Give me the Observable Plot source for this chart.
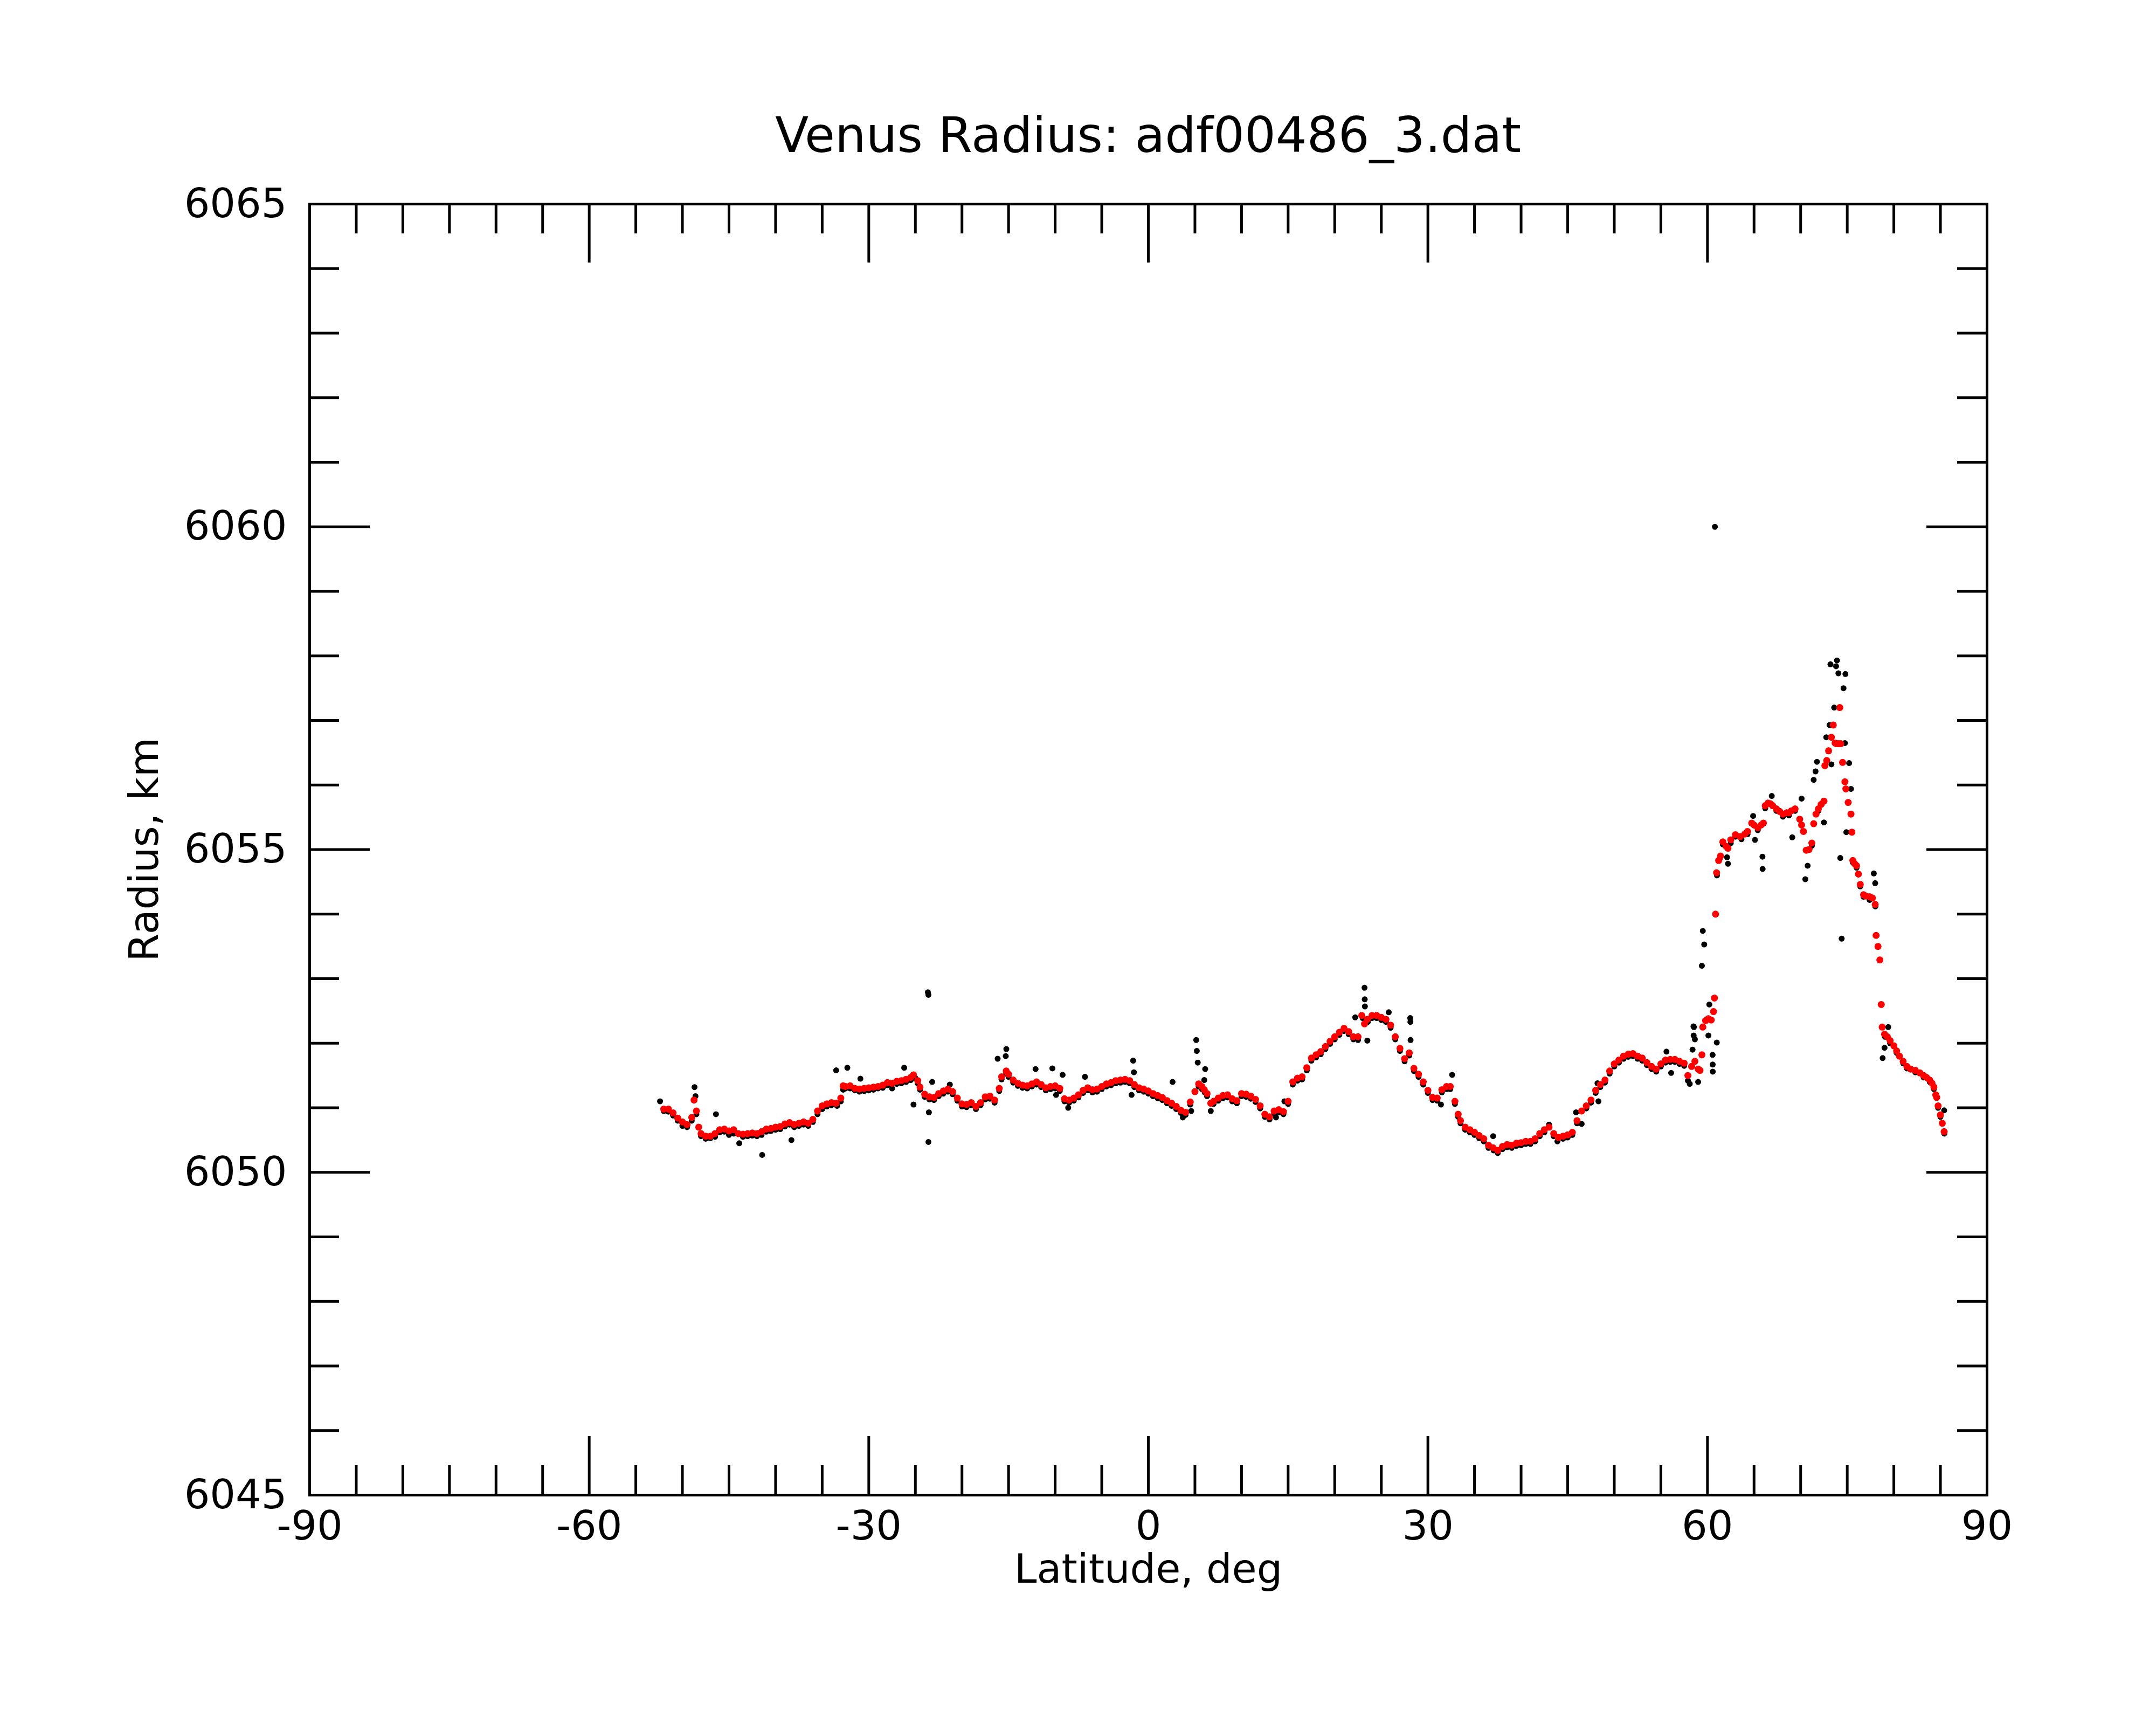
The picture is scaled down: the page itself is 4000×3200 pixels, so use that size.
<!DOCTYPE html>
<html>
<head>
<meta charset="utf-8">
<script src="https://cdn.jsdelivr.net/npm/d3@7"></script>
<script src="https://cdn.jsdelivr.net/npm/@observablehq/plot@0.6"></script>
<style>
  html, body { margin: 0; padding: 0; background: #ffffff; }
  #title {
    width: 4000px; height: 300px; box-sizing: border-box; padding-top: 205px; padding-left: 260px;
    font-family: "DejaVu Sans", sans-serif; font-size: 91px; line-height: 91px;
    text-align: center; color: #000;
  }
</style>
</head>
<body>
<div id="title">Venus Radius: adf00486_3.dat</div>
<div id="chart"></div>
<script>
// Axis ticks
const xMajorTicks = [-90, -60, -30, 0, 30, 60, 90];
const xMinorTicks = [-85, -80, -75, -70, -65, -55, -50, -45, -40, -35, -25, -20, -15, -10, -5,
                     5, 10, 15, 20, 25, 35, 40, 45, 50, 55, 65, 70, 75, 80, 85];
const yMajorTicks = [6045, 6050, 6055, 6060, 6065];
const yMinorTicks = [6046, 6047, 6048, 6049, 6051, 6052, 6053, 6054, 6056, 6057, 6058, 6059,
                     6061, 6062, 6063, 6064];

const xLabel = "Latitude, deg";
const yLabel = "Radius, km";

// Red (filtered) series: [latitude, radius km]
const redPoints = [
  [-52.0,6050.98],[-51.5,6050.98],[-51.0,6050.92],[-50.5,6050.84],[-50.0,6050.78],[-49.5,6050.74],
  [-49.0,6050.85],[-48.75,6051.12],[-48.5,6050.95],[-48.25,6050.70],[-48.0,6050.60],[-47.5,6050.56],
  [-47.0,6050.56],[-46.5,6050.60],[-46.0,6050.66],[-45.5,6050.67],[-45.0,6050.64],[-44.5,6050.66],
  [-44.0,6050.60],[-43.5,6050.59],[-43.0,6050.60],[-42.5,6050.61],[-42.0,6050.60],[-41.5,6050.63],
  [-41.0,6050.67],[-40.5,6050.68],[-40.0,6050.70],[-39.5,6050.71],[-39.0,6050.75],[-38.5,6050.77],
  [-38.0,6050.74],[-37.5,6050.76],[-37.0,6050.78],[-36.5,6050.76],[-36.0,6050.82],[-35.5,6050.95],
  [-35.0,6051.03],[-34.5,6051.06],[-34.0,6051.08],[-33.5,6051.07],[-33.0,6051.15],[-32.75,6051.34],
  [-32.5,6051.33],[-32.0,6051.34],[-31.5,6051.30],[-31.0,6051.29],[-30.5,6051.30],[-30.0,6051.31],
  [-29.5,6051.32],[-29.0,6051.33],[-28.5,6051.35],[-28.0,6051.39],[-27.5,6051.38],[-27.0,6051.41],
  [-26.5,6051.42],[-26.0,6051.44],[-25.5,6051.47],[-25.2,6051.51],[-24.75,6051.42],[-24.5,6051.32],
  [-24.0,6051.21],[-23.5,6051.17],[-23.0,6051.16],[-22.5,6051.22],[-22.0,6051.26],[-21.5,6051.29],
  [-21.0,6051.25],[-20.5,6051.15],[-20.0,6051.06],[-19.5,6051.05],[-19.0,6051.08],[-18.5,6051.02],
  [-18.0,6051.08],[-17.5,6051.17],[-17.0,6051.18],[-16.5,6051.12],[-16.0,6051.30],[-15.75,6051.48],
  [-15.25,6051.57],[-15.0,6051.52],[-14.5,6051.43],[-14.0,6051.38],[-13.5,6051.35],[-13.0,6051.34],
  [-12.5,6051.37],[-12.0,6051.40],[-11.5,6051.36],[-11.0,6051.31],[-10.5,6051.33],[-10.0,6051.34],
  [-9.5,6051.30],[-9.0,6051.14],[-8.5,6051.12],[-8.0,6051.15],[-7.5,6051.20],[-7.0,6051.27],
  [-6.5,6051.31],[-6.0,6051.28],[-5.5,6051.29],[-5.0,6051.33],[-4.5,6051.37],[-4.0,6051.39],
  [-3.5,6051.42],[-3.0,6051.43],[-2.5,6051.44],[-2.0,6051.42],[-1.5,6051.36],[-1.0,6051.31],
  [-0.5,6051.29],[0.0,6051.26],[0.5,6051.22],[1.0,6051.19],[1.5,6051.16],[2.0,6051.11],
  [2.5,6051.07],[3.0,6051.02],[3.5,6050.96],[4.0,6050.93],[4.5,6051.09],[5.0,6051.25],
  [5.4,6051.37],[5.75,6051.33],[6.0,6051.28],[6.3,6051.22],[6.7,6051.07],[7.0,6051.10],
  [7.5,6051.15],[8.0,6051.19],[8.5,6051.20],[9.0,6051.14],[9.5,6051.11],[10.0,6051.22],
  [10.5,6051.21],[11.0,6051.18],[11.5,6051.13],[12.0,6051.03],[12.5,6050.90],[13.0,6050.86],
  [13.5,6050.95],[14.0,6050.97],[14.5,6050.94],[15.0,6051.10],[15.5,6051.40],[16.0,6051.46],
  [16.5,6051.48],[17.0,6051.62],[17.5,6051.77],[18.0,6051.82],[18.5,6051.87],[19.0,6051.95],
  [19.5,6052.03],[20.0,6052.10],[20.5,6052.17],[21.0,6052.23],[21.5,6052.18],[22.0,6052.10],
  [22.5,6052.10],[22.9,6052.43],[23.2,6052.30],[23.5,6052.37],[24.0,6052.43],[24.5,6052.43],
  [25.0,6052.40],[25.5,6052.37],[26.0,6052.28],[26.5,6052.10],[27.0,6051.92],[27.5,6051.76],
  [28.0,6051.85],[28.5,6051.61],[29.0,6051.52],[29.5,6051.40],[30.0,6051.27],[30.5,6051.16],
  [31.0,6051.15],[31.5,6051.28],[32.0,6051.33],[32.4,6051.33],[32.9,6051.10],[33.25,6050.90],
  [33.5,6050.80],[34.0,6050.70],[34.5,6050.66],[35.0,6050.62],[35.5,6050.57],[36.0,6050.52],
  [36.5,6050.42],[37.0,6050.38],[37.5,6050.34],[38.0,6050.40],[38.5,6050.43],[39.0,6050.42],
  [39.5,6050.45],[40.0,6050.46],[40.5,6050.48],[41.0,6050.48],[41.5,6050.52],[42.0,6050.60],
  [42.5,6050.66],[43.0,6050.70],[43.5,6050.60],[44.0,6050.54],[44.5,6050.56],[45.0,6050.58],
  [45.5,6050.62],[46.0,6050.80],[46.5,6050.95],[47.0,6051.03],[47.5,6051.12],[48.0,6051.27],
  [48.5,6051.36],[49.0,6051.43],[49.5,6051.57],[50.0,6051.68],[50.5,6051.74],[51.0,6051.80],
  [51.5,6051.83],[52.0,6051.84],[52.5,6051.80],[53.0,6051.77],[53.5,6051.70],[54.0,6051.64],
  [54.5,6051.60],[55.0,6051.68],[55.5,6051.74],[56.0,6051.75],[56.5,6051.75],[57.0,6051.72],
  [57.5,6051.69],[57.9,6051.50],[58.3,6051.64],[58.65,6051.72],[59.0,6051.60],[59.2,6051.58],
  [59.4,6051.82],[59.5,6052.25],[59.8,6052.35],[60.1,6052.38],[60.4,6052.36],[60.65,6052.49],
  [60.75,6052.70],[60.87,6054.00],[60.98,6054.64],[61.2,6054.83],[61.4,6054.90],[61.65,6055.12],
  [62.0,6055.05],[62.2,6055.02],[62.5,6055.15],[63.0,6055.23],[63.5,6055.20],[64.0,6055.24],
  [64.3,6055.28],[64.75,6055.41],[65.0,6055.38],[65.4,6055.34],[65.75,6055.38],[66.0,6055.41],
  [66.2,6055.68],[66.5,6055.72],[66.75,6055.71],[67.0,6055.68],[67.4,6055.63],[67.75,6055.59],
  [68.1,6055.55],[68.5,6055.57],[68.75,6055.57],[69.0,6055.60],[69.4,6055.63],[69.9,6055.47],
  [70.1,6055.38],[70.3,6055.28],[70.6,6054.99],[70.9,6055.00],[71.2,6055.10],[71.4,6055.40],
  [71.65,6055.55],[71.9,6055.63],[72.2,6055.70],[72.5,6055.75],[72.6,6056.30],[72.8,6056.38],
  [73.0,6056.53],[73.3,6056.74],[73.5,6056.93],[73.7,6056.65],[73.85,6056.64],[74.05,6056.64],
  [74.2,6057.20],[74.3,6056.64],[74.5,6056.35],[74.75,6056.05],[74.85,6055.94],[75.1,6055.73],
  [75.4,6055.55],[75.5,6055.27],[75.6,6054.83],[75.8,6054.78],[76.0,6054.75],[76.2,6054.62],
  [76.4,6054.46],[76.75,6054.30],[77.0,6054.28],[77.4,6054.27],[77.7,6054.25],[78.0,6054.15],
  [78.1,6053.67],[78.3,6053.50],[78.5,6053.29],[78.65,6052.60],[78.75,6052.25],[79.0,6052.14],
  [79.3,6052.10],[79.6,6052.04],[80.0,6051.96],[80.3,6051.88],[80.6,6051.80],[81.0,6051.72],
  [81.4,6051.64],[81.8,6051.60],[82.3,6051.58],[82.8,6051.54],[83.2,6051.50],[83.5,6051.47],
  [83.85,6051.43],[84.1,6051.38],[84.3,6051.32],[84.5,6051.20],[84.6,6051.16],[84.75,6051.03],
  [85.0,6050.89],[85.2,6050.76],[85.4,6050.63]
];

// Black (raw) series: [latitude, radius km]
const blackPoints = [
  [-52.4,6051.10],[-52.0,6050.95],[-51.5,6050.94],[-51.0,6050.88],[-50.5,6050.80],[-50.0,6050.72],
  [-49.5,6050.70],[-49.0,6050.80],[-48.7,6051.32],[-48.6,6051.18],[-48.5,6050.90],[-48.0,6050.56],
  [-47.5,6050.52],[-47.0,6050.53],[-46.5,6050.55],[-46.4,6050.90],[-46.0,6050.62],[-45.5,6050.63],
  [-45.0,6050.58],[-44.5,6050.60],[-43.9,6050.45],[-43.5,6050.55],[-43.0,6050.56],[-42.5,6050.57],
  [-42.0,6050.56],[-41.44,6050.27],[-41.5,6050.58],[-41.0,6050.63],[-40.5,6050.64],[-40.0,6050.66],
  [-39.5,6050.67],[-39.0,6050.71],[-38.5,6050.74],[-38.3,6050.50],[-38.0,6050.70],[-37.5,6050.72],
  [-37.0,6050.74],[-36.5,6050.72],[-36.0,6050.78],[-35.5,6050.90],[-35.0,6050.98],[-34.5,6051.02],
  [-34.0,6051.04],[-33.5,6051.58],[-33.4,6051.03],[-33.0,6051.10],[-32.75,6051.28],[-32.3,6051.62],
  [-32.5,6051.30],[-32.0,6051.30],[-31.5,6051.27],[-30.9,6051.45],[-31.0,6051.25],[-30.5,6051.26],
  [-30.0,6051.27],[-29.5,6051.28],[-29.0,6051.30],[-28.5,6051.31],[-28.0,6051.35],[-27.5,6051.30],
  [-27.0,6051.37],[-26.5,6051.38],[-26.2,6051.62],[-26.0,6051.40],[-25.5,6051.43],[-25.2,6051.05],
  [-25.0,6051.46],[-24.75,6051.38],[-24.5,6051.28],[-24.0,6051.17],[-23.66,6052.79],[-23.6,6052.75],
  [-23.6,6050.47],[-23.55,6050.93],[-23.2,6051.40],[-23.5,6051.13],[-23.0,6051.12],[-22.5,6051.18],
  [-22.0,6051.22],[-21.3,6051.36],[-21.5,6051.25],[-21.0,6051.21],[-20.5,6051.11],[-20.0,6051.02],
  [-19.5,6051.01],[-19.0,6051.04],[-18.5,6050.98],[-18.0,6051.04],[-17.5,6051.13],[-17.0,6051.14],
  [-16.5,6051.08],[-16.17,6051.76],[-16.0,6051.26],[-15.75,6051.44],[-15.24,6051.91],[-15.3,6051.80],
  [-15.25,6051.53],[-15.0,6051.48],[-14.5,6051.39],[-14.0,6051.34],[-13.5,6051.31],[-13.0,6051.30],
  [-12.5,6051.33],[-12.1,6051.60],[-12.0,6051.36],[-11.5,6051.32],[-11.0,6051.27],[-10.5,6051.29],
  [-10.3,6051.61],[-10.0,6051.30],[-9.9,6051.20],[-9.5,6051.26],[-9.2,6051.51],[-9.0,6051.10],
  [-8.6,6051.00],[-8.5,6051.08],[-8.0,6051.11],[-7.5,6051.16],[-7.0,6051.23],[-6.8,6051.48],
  [-6.5,6051.27],[-6.0,6051.24],[-5.5,6051.25],[-5.0,6051.29],[-4.5,6051.33],[-4.0,6051.35],
  [-3.5,6051.38],[-3.0,6051.39],[-2.5,6051.40],[-2.0,6051.38],[-1.8,6051.20],[-1.63,6051.73],
  [-1.55,6051.55],[-1.5,6051.32],[-1.0,6051.27],[-0.5,6051.25],[0.0,6051.22],[0.5,6051.18],
  [1.0,6051.15],[1.5,6051.12],[2.0,6051.07],[2.5,6051.03],[2.6,6051.40],[3.0,6050.98],
  [3.5,6050.92],[3.7,6050.85],[4.0,6050.89],[4.6,6050.95],[4.5,6051.05],[5.14,6052.05],
  [5.2,6051.88],[5.3,6051.70],[5.4,6051.33],[5.75,6051.29],[6.0,6051.43],[6.1,6051.60],
  [6.05,6051.24],[6.3,6051.18],[6.7,6050.95],[7.0,6051.06],[7.5,6051.11],[8.0,6051.15],
  [8.5,6051.16],[9.0,6051.10],[9.5,6051.07],[10.0,6051.18],[10.5,6051.17],[11.0,6051.14],
  [11.5,6051.09],[12.0,6050.99],[12.5,6050.86],[13.0,6050.82],[13.5,6050.91],[13.7,6050.85],
  [14.0,6050.93],[14.5,6050.90],[14.6,6051.10],[15.0,6051.06],[15.5,6051.36],[16.0,6051.42],
  [16.5,6051.44],[17.0,6051.58],[17.5,6051.73],[18.0,6051.78],[18.5,6051.83],[19.0,6051.91],
  [19.5,6051.99],[20.0,6052.06],[20.5,6052.13],[21.0,6052.19],[21.5,6052.14],[22.0,6052.06],
  [22.2,6052.40],[22.5,6052.05],[23.0,6052.39],[23.2,6052.86],[23.22,6052.68],[23.24,6052.57],
  [23.5,6052.04],[23.55,6052.33],[24.0,6052.39],[24.5,6052.39],[25.0,6052.36],[25.5,6052.33],
  [25.8,6052.48],[26.0,6052.24],[26.5,6052.06],[27.0,6051.88],[27.5,6051.72],[28.0,6051.81],
  [28.1,6052.39],[28.12,6052.33],[28.14,6052.05],[28.5,6051.57],[29.0,6051.48],[29.5,6051.36],
  [30.0,6051.23],[30.5,6051.12],[31.0,6051.11],[31.4,6051.05],[31.5,6051.24],[32.0,6051.29],
  [32.6,6051.51],[32.4,6051.29],[32.9,6051.06],[33.25,6050.86],[33.5,6050.76],[34.0,6050.66],
  [34.5,6050.62],[35.0,6050.58],[35.5,6050.53],[36.0,6050.48],[36.5,6050.38],[37.0,6050.56],
  [37.05,6050.34],[37.5,6050.30],[38.0,6050.36],[38.5,6050.39],[39.0,6050.38],[39.5,6050.41],
  [40.0,6050.42],[40.5,6050.44],[41.0,6050.44],[41.5,6050.48],[42.0,6050.56],[42.5,6050.62],
  [43.0,6050.74],[43.5,6050.56],[43.9,6050.48],[44.5,6050.52],[45.0,6050.54],[45.5,6050.58],
  [45.9,6050.93],[46.0,6050.76],[46.5,6050.75],[47.0,6050.99],[47.5,6051.08],[48.0,6051.23],
  [48.2,6051.38],[48.3,6051.10],[48.5,6051.32],[49.0,6051.39],[49.5,6051.53],[50.0,6051.64],
  [50.5,6051.70],[51.0,6051.76],[51.5,6051.79],[52.0,6051.80],[52.5,6051.76],[53.0,6051.73],
  [53.5,6051.66],[54.0,6051.60],[54.5,6051.56],[55.0,6051.64],[55.6,6051.87],[55.5,6051.70],
  [56.1,6051.54],[56.0,6051.71],[56.5,6051.71],[57.0,6051.68],[57.5,6051.65],[57.9,6051.42],
  [58.1,6051.37],[58.4,6051.90],[58.5,6052.26],[58.55,6052.25],[58.52,6052.12],[58.65,6052.06],
  [59.0,6051.40],[59.4,6053.20],[59.5,6053.74],[59.65,6053.53],[60.1,6052.12],[60.2,6052.60],
  [60.55,6051.82],[60.56,6051.67],[60.57,6051.56],[61.0,6052.01],[60.8,6060.00],[61.02,6054.60],
  [61.3,6054.85],[61.65,6055.08],[62.1,6054.88],[62.2,6054.78],[62.5,6055.10],[63.0,6055.20],
  [63.65,6055.16],[64.3,6055.24],[64.9,6055.52],[65.1,6055.15],[65.4,6055.30],[65.9,6054.89],
  [65.92,6054.70],[66.2,6055.64],[66.9,6055.83],[67.4,6055.60],[68.1,6055.51],[68.75,6055.53],
  [69.1,6055.19],[69.4,6055.60],[70.1,6055.79],[70.5,6054.54],[70.75,6054.75],[71.2,6055.06],
  [71.4,6056.08],[71.6,6056.21],[71.75,6056.36],[71.9,6055.60],[72.5,6055.42],[72.75,6056.74],
  [73.1,6056.93],[73.2,6057.87],[73.3,6056.32],[73.6,6057.20],[73.8,6057.84],[73.9,6057.93],
  [74.05,6057.73],[74.25,6054.87],[74.4,6053.62],[74.6,6057.50],[74.75,6056.65],[74.8,6057.72],
  [74.9,6055.27],[75.2,6056.34],[75.4,6055.94],[75.6,6054.80],[76.0,6054.72],[76.4,6054.43],
  [76.75,6054.27],[77.4,6054.22],[77.85,6054.63],[78.0,6054.48],[78.02,6054.12],[78.8,6051.77],
  [79.0,6051.93],[79.4,6052.25],[79.05,6052.10],[79.6,6052.00],[80.3,6051.85],[81.0,6051.69],
  [81.4,6051.61],[82.3,6051.55],[83.2,6051.47],[83.85,6051.40],[84.3,6051.29],[84.75,6051.00],
  [85.0,6050.86],[85.4,6050.96],[85.42,6050.60]
];

const frameW = 4000 - 574 - 314;   // plot frame width in px
const frameH = 2900 - 78 - 427;    // plot frame height in px
const lw = 5;

const chart = Plot.plot({
  width: 4000,
  height: 2900,
  marginTop: 78,
  marginRight: 314,
  marginBottom: 427,
  marginLeft: 574,
  style: { fontFamily: "DejaVu Sans", fontSize: "75px", background: "#ffffff", color: "#000" },
  x: { domain: [-90, 90], label: null },
  y: { domain: [6045, 6065], label: null },
  marks: [
    // raw data
    Plot.dot(blackPoints, { x: d => d[0], y: d => d[1], r: 5.5, fill: "#000000" }),
    // filtered data
    Plot.dot(redPoints, { x: d => d[0], y: d => d[1], r: 6.5, fill: "#ff0000" }),
    // inward ticks: bottom & top
    Plot.ruleX(xMajorTicks, { x: d => d, insetTop: frameH - 109, stroke: "#000", strokeWidth: lw }),
    Plot.ruleX(xMajorTicks, { x: d => d, insetBottom: frameH - 109, stroke: "#000", strokeWidth: lw }),
    Plot.ruleX(xMinorTicks, { x: d => d, insetTop: frameH - 55, stroke: "#000", strokeWidth: lw }),
    Plot.ruleX(xMinorTicks, { x: d => d, insetBottom: frameH - 55, stroke: "#000", strokeWidth: lw }),
    // inward ticks: left & right
    Plot.ruleY(yMajorTicks, { y: d => d, insetRight: frameW - 112, stroke: "#000", strokeWidth: lw }),
    Plot.ruleY(yMajorTicks, { y: d => d, insetLeft: frameW - 112, stroke: "#000", strokeWidth: lw }),
    Plot.ruleY(yMinorTicks, { y: d => d, insetRight: frameW - 55, stroke: "#000", strokeWidth: lw }),
    Plot.ruleY(yMinorTicks, { y: d => d, insetLeft: frameW - 55, stroke: "#000", strokeWidth: lw }),
    Plot.frame({ stroke: "#000", strokeWidth: lw }),
    // tick labels
    Plot.axisX({ ticks: xMajorTicks, tickSize: 0, tickPadding: 29, tickFormat: d => String(d), fontSize: 75, label: null }),
    Plot.axisY({ ticks: yMajorTicks, tickSize: 0, tickPadding: 42, tickFormat: d => String(d), fontSize: 75, label: null }),
    // axis titles
    Plot.text([xLabel], { frameAnchor: "bottom", dy: 162, lineAnchor: "bottom", textAnchor: "middle", fontSize: 75, fill: "#000" }),
    Plot.text([yLabel], { frameAnchor: "left", dx: -282, rotate: -90, lineAnchor: "bottom", textAnchor: "middle", fontSize: 75, fill: "#000" })
  ]
});
document.getElementById("chart").appendChild(chart);
</script>
</body>
</html>
